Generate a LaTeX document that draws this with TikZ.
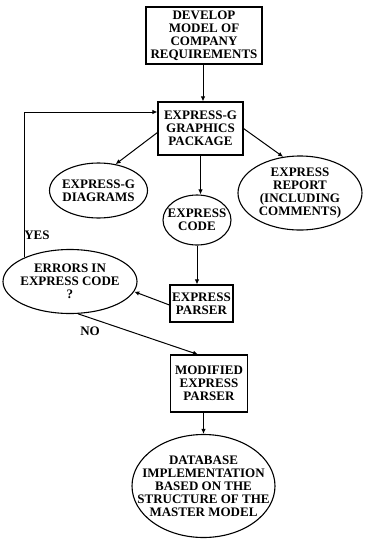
\documentclass[tikz,border=0pt]{standalone}
\usepackage{fontspec}
\setmainfont{Liberation Serif}
\usetikzlibrary{arrows.meta, positioning, shapes.geometric}

\begin{document}
\begin{tikzpicture}[
  x=1pt, y=-1pt,
  font=\fontsize{13}{13}\selectfont\bfseries,
  box/.style={draw, line width=1.1pt, align=center, inner sep=1pt},
  oval/.style={draw, ellipse, line width=1.1pt, align=center, inner xsep=-20pt, inner ysep=-4pt},
  lbl/.style={inner sep=1pt},
  arr/.style={-{Latex[length=5pt,width=4.5pt]}, line width=1pt},
]
\useasboundingbox (0,0) rectangle (367,539);

% ---- boxes
\node[box, minimum width=116pt, minimum height=57pt] (dev) at (204,35.5) {DEVELOP\\MODEL OF\\COMPANY\\REQUIREMENTS};
\node[box, minimum width=85pt, minimum height=53pt] (gfx) at (200.5,128.5) {EXPRESS-G\\GRAPHICS\\PACKAGE};
\node[box, minimum width=63pt, minimum height=37pt] (parser) at (201.5,303.5) {EXPRESS\\PARSER};
\node[box, minimum width=77pt, minimum height=57pt] (mod) at (209,383.5) {MODIFIED\\EXPRESS\\PARSER};

% ---- ovals
\node[oval, minimum width=98pt, minimum height=55pt] (diag) at (98.5,190.5) {EXPRESS-G\\DIAGRAMS};
\node[oval, minimum width=68pt, minimum height=50pt] (code) at (197,220) {EXPRESS\\CODE};
\node[oval, minimum width=124pt, minimum height=74pt] (rep) at (300,193) {EXPRESS\\REPORT\\(INCLUDING\\COMMENTS)};
\node[oval, minimum width=134pt, minimum height=64pt] (err) at (70,281.5) {ERRORS IN\\EXPRESS CODE\\?};
\node[oval, minimum width=143pt, minimum height=103pt] (db) at (203.5,486) {DATABASE\\IMPLEMENTATION\\BASED ON THE\\STRUCTURE OF THE\\MASTER MODEL};

% ---- labels
\node[lbl] (yes) at (37,235) {YES};
\node[lbl] (no) at (90,331) {NO};

% ---- flow
\draw[arr] ([xshift=-1pt]dev.south) -- ([xshift=-1pt]dev.south |- gfx.north);
\draw[arr] ([yshift=-4pt]gfx.west) -- (diag.57);
\draw[arr] (gfx.east) -- (rep.115);
\draw[arr] (gfx.south) -- (gfx.south |- code.north);
\draw[arr] (code.south) -- (code.south |- parser.north);
\draw[arr] ([yshift=-1.5pt]parser.west) -- (err.-9);
\draw[arr] (err.-76) -- ([xshift=-11pt]mod.north);
\draw[arr] (mod.south -| db.north) -- (db.north);
\draw[arr] (err.152) |- ([yshift=16.5pt]gfx.west);
\end{tikzpicture}
\end{document}
